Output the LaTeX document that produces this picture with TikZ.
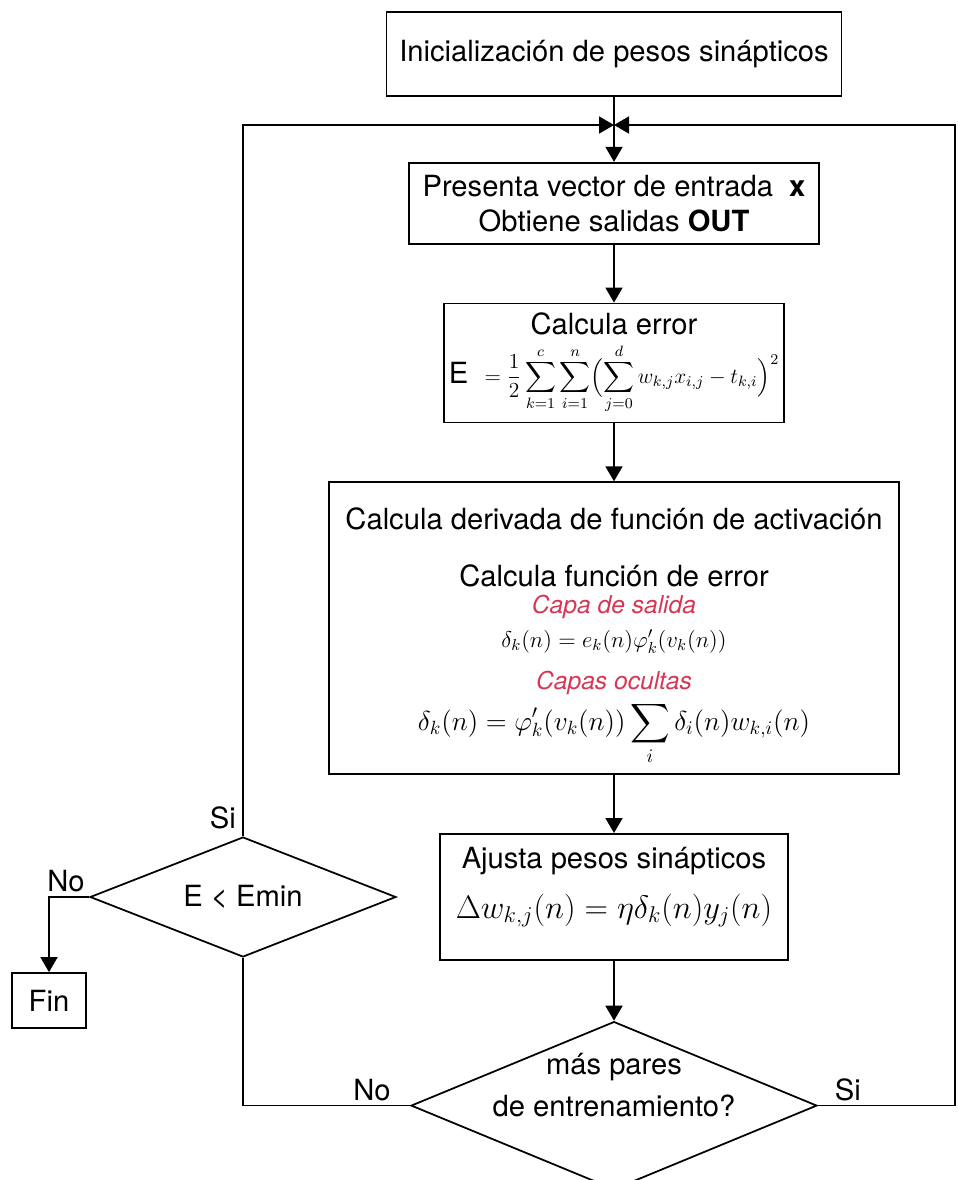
\RequirePackage{fix-cm}
\documentclass[tikz,border=0pt]{standalone}
\usepackage{amsmath}
\usepackage{amssymb}
\usepackage[no-math]{fontspec}
\setmainfont{TeX Gyre Heros}
\usetikzlibrary{arrows.meta,positioning}
\usetikzlibrary{shapes.geometric}
\definecolor{rojo}{RGB}{214,55,85}
\newcommand{\capa}[1]{{\color{rojo}\fontsize{14}{17}\selectfont\itshape #1}}
\tikzset{
	%Define standard arrow tip
	>={Triangle[width=0.34cm,length=0.3cm]},
	%Define style for labels
	etiqueta/.style={inner sep=1pt, align=center, font=\fontsize{16.6}{20}\selectfont},
	%Define style for boxes
	caja/.style={
		rectangle,
		draw=black, line width=1pt,
		inner sep=2pt,
		align=center,
		font=\fontsize{16.6}{20}\selectfont},
	%Define style for decisions
	rombo/.style={
		diamond,
		draw=black, line width=1pt,
		inner sep=0pt,
		align=center,
		font=\fontsize{16.6}{20}\selectfont},
	% Define arrow style
	pil/.style={
		->,
		line width=1pt},
	linea/.style={line width=1pt}
}

\begin{document}
\begin{tikzpicture}[x=0.02cm, y=-0.02cm]
	\useasboundingbox (0,0) rectangle (957,1180);
	% node Inicializacion
	\node[caja, minimum width=9.1cm, minimum height=1.68cm] (init) at (614,54) {Inicialización de pesos sinápticos};
	\coordinate (cruce) at (614,125);
	\coordinate (borde) at (955,0);
	% node Presenta
	\node[caja, minimum width=8.2cm, minimum height=1.62cm, below=1.3cm of init] (presenta) {Presenta vector de entrada\ \ \textbf{x}\\Obtiene salidas \textbf{OUT}};
	% node Calcula error
	\node[caja, minimum width=6.8cm, minimum height=2.38cm, below=1.16cm of presenta] (error) {Calcula error\\[4pt]
		E\ \ {\fontsize{12.2}{15}\selectfont$\displaystyle =\frac{1}{2}\sum_{k=1}^{c}\sum_{i=1}^{n}\Bigl(\sum_{j=0}^{d}w_{k,j}x_{i,j}-t_{k,i}\Bigr)^{2}$}};
	% node Derivada
	\node[caja, minimum width=11.4cm, minimum height=5.84cm, below=1.16cm of error] (deriv) {\rule{0pt}{22pt}Calcula derivada de función de activación\\[12pt]
		Calcula función de error\\[-4.3pt]
		\capa{Capa de salida}\\[-1pt]
		{\fontsize{13}{15}\selectfont$\delta_k(n)=e_k(n)\varphi'_k(v_k(n))$}\\[4.3pt]
		\capa{Capas ocultas}\\[3pt]
		{\fontsize{15.6}{18}\selectfont$\displaystyle \delta_k(n)=\varphi'_k(v_k(n))\sum_{i}\delta_i(n)w_{k,i}(n)$}};
	% node Ajusta
	\node[caja, minimum width=6.96cm, minimum height=2.52cm, below=1.16cm of deriv] (ajusta) {Ajusta pesos sinápticos\\[8pt]
		{\fontsize{18.5}{22}\selectfont$\Delta w_{k,j}(n)=\eta\delta_k(n)y_j(n)$\rule[-16pt]{0pt}{16pt}}};
	% node mas pares
	\node[rombo, minimum width=8.12cm, minimum height=3.36cm, below=1.2cm of ajusta] (pares) {};
	\node[etiqueta, yshift=0.41cm] (parestexto) at (pares) {más pares\\[4pt]de entrenamiento?};
	% node E < Emin
	\node[rombo, minimum width=6.12cm, minimum height=2.4cm] (emin) at (243,897) {};
	\node[etiqueta] (emintexto) at (emin) {E < Emin};
	% node Fin
	\node[caja, minimum width=1.48cm, minimum height=1.1cm] (fin) at (49,1000.5) {Fin};
	% labels
	\node[etiqueta, above left=0.1cm and 0.1cm of emin.north] (si1) {Si};
	\node[etiqueta, above left=0.05cm and 0.05cm of emin.west] (no1) {No};
	\node[etiqueta, above left=0.05cm and 0.35cm of pares.west] (no2) {No};
	\node[etiqueta, above right=0.05cm and 0.3cm of pares.east] (si2) {Si};
	% connectors
	\draw[linea] (init) -- (cruce);
	\draw[pil]   (cruce) -- (presenta);
	\draw[pil]   (presenta) -- (error);
	\draw[pil]   (error) -- (deriv);
	\draw[pil]   (deriv) -- (ajusta);
	\draw[pil]   (ajusta) -- (pares);
	\draw[linea] (pares.west) -| (emin.south);
	\draw[pil]   (emin.north) |- (cruce);
	\draw[pil]   (pares.east) -- (pares.east -| borde) |- (cruce);
	\draw[pil]   (emin.west) -| (fin.north);
\end{tikzpicture}
\end{document}
